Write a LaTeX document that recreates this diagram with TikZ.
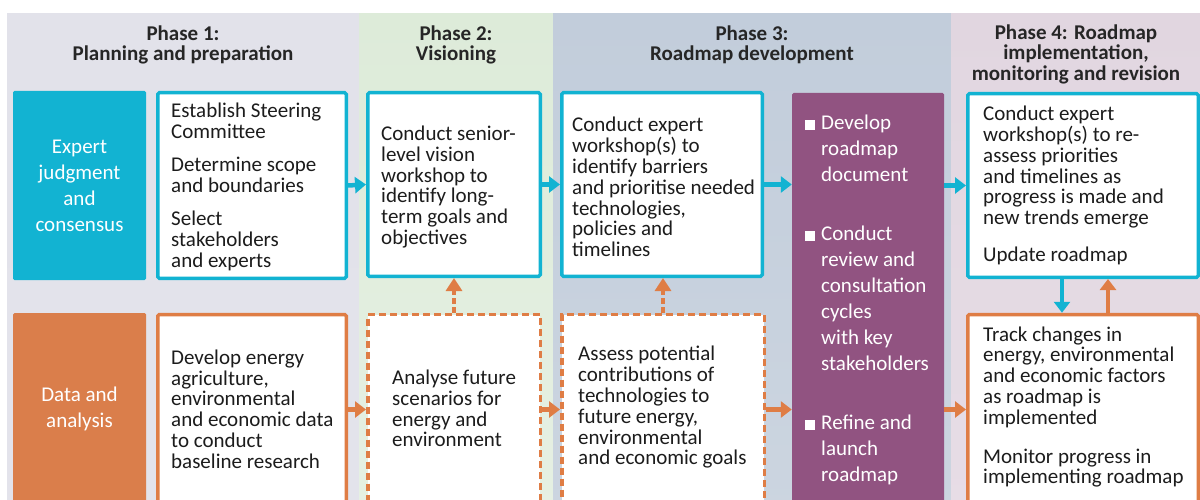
\documentclass[tikz,border=0pt]{standalone}
\usepackage{fontspec}
\setmainfont{Carlito}
\usetikzlibrary{arrows.meta}
\definecolor{cy}{HTML}{12B3D2}
\definecolor{org}{HTML}{DF7D45}
\definecolor{orgfill}{HTML}{DA7E4B}
\definecolor{pur}{HTML}{915381}
\definecolor{txt}{HTML}{1C1C1C}
\definecolor{hd}{HTML}{262626}
\definecolor{aT}{HTML}{E2E2EA}\definecolor{aM}{HTML}{F7F7F9}\definecolor{aB}{HTML}{E3E3EB}
\definecolor{bT}{HTML}{DDEBD9}\definecolor{bM}{HTML}{F3F8F1}\definecolor{bB}{HTML}{E6F0E3}
\definecolor{cT}{HTML}{C2CDDB}\definecolor{cM}{HTML}{E8ECF1}\definecolor{cB}{HTML}{CCD5E0}
\definecolor{dT}{HTML}{E1D6E0}\definecolor{dM}{HTML}{F6F1F5}\definecolor{dB}{HTML}{E7DDE6}
\begin{document}
\begin{tikzpicture}[x=1pt,y=-1pt,
  hdr/.style={inner sep=0pt, anchor=north, align=center, text=hd, font=\fontsize{21}{20.5}\selectfont\bfseries},
  body/.style={inner sep=0pt, anchor=west, align=left, text=txt, font=\fontsize{21}{20.8}\selectfont},
  wtxt/.style={inner sep=0pt, align=center, text=white, font=\fontsize{21}{26}\selectfont},
  ptxt/.style={inner sep=0pt, anchor=west, align=left, text=white, font=\fontsize{21}{26}\selectfont},
  boxbase/.style={line width=3.5pt, fill=white, rounded corners=1.5pt, inner sep=0pt},
  cbox/.style={boxbase, draw=cy},
  obox/.style={boxbase, draw=org},
  dbox/.style={boxbase, draw=org, dash pattern=on 7pt off 4pt, rounded corners=0pt},
  lab/.style={fill=#1, rounded corners=1.5pt, inner sep=0pt},
  carr/.style={draw=cy, line width=4.5pt, -{Triangle[length=11pt,width=16pt]}},
  oarr/.style={draw=org, line width=4.5pt, -{Triangle[length=11pt,width=16pt]}},
  darr/.style={draw=org, line width=4.5pt, dash pattern=on 6pt off 3pt, -{Triangle[length=13pt,width=16pt]}}
]
\useasboundingbox (0,0) rectangle (1200,500);
\clip (0,0) rectangle (1200,500);
% background bands
\shade[top color=aT, middle color=aM, bottom color=aB] (7,14) rectangle (359,520);
\shade[top color=bT, middle color=bM, bottom color=bB] (359,14) rectangle (553,520);
\shade[top color=cT, middle color=cM, bottom color=cB] (553,14) rectangle (951,520);
\shade[top color=dT, middle color=dM, bottom color=dB] (951,14) rectangle (1200,520);
% headers
\node[hdr] (h1) at (183,25.5) {Phase 1:\\Planning and preparation};
\node[hdr] (h2) at (456,25.5) {Phase 2:\\Visioning};
\node[hdr] (h3) at (752,25.5) {Phase 3:\\Roadmap development};
\node[hdr] (h4) at (1076,24.5) {Phase 4: Roadmap\\implementation,\\monitoring and revision};
% top row boxes
\node[lab=cy, minimum width=133pt, minimum height=189pt] (L1) at (79.5,185.5) {};
\node[cbox, minimum width=188.5pt, minimum height=185.5pt] (B1) at (252,185.5) {};
\node[cbox, minimum width=172.5pt, minimum height=183.5pt] (B2) at (454,184.5) {};
\node[cbox, minimum width=200.5pt, minimum height=183.5pt] (B3) at (662,184.5) {};
\node[lab=pur, minimum width=152pt, minimum height=410pt] (P) at (868,298) {};
\node[cbox, minimum width=230.5pt, minimum height=183.5pt] (B4) at (1083,185.5) {};
% bottom row boxes
\node[lab=orgfill, minimum width=133pt, minimum height=192pt] (L2) at (79.5,409) {};
\node[obox, minimum width=188.5pt, minimum height=190pt] (C1) at (252,409.5) {};
\node[dbox, minimum width=172.5pt, minimum height=190pt] (C2) at (454,409.5) {};
\node[dbox, minimum width=202.5pt, minimum height=190pt] (C3) at (663,409.5) {};
\node[obox, minimum width=230.5pt, minimum height=190pt] (C4) at (1083,409.5) {};
% texts
\node[wtxt] (tL1) at (79.5,186) {Expert\\judgment\\and\\consensus};
\node[body] (tB1) at (171,187) {Establish Steering\\Committee\\[12.5pt]Determine scope\\and boundaries\\[12.5pt]Select\\stakeholders\\and experts};
\node[body] (tB2) at (381,187) {Conduct senior-\\level vision\\workshop to\\identify long-\\term goals and\\objectives};
\node[body] (tB3) at (572,187) {Conduct expert\\workshop(s) to\\identify barriers\\and prioritise needed\\technologies,\\policies and\\timelines};
\node[ptxt] (tP) at (805,300) {\makebox[16pt][l]{\rule{10pt}{10pt}}Develop\\\hspace*{16pt}roadmap\\\hspace*{16pt}document\\[33pt]\makebox[16pt][l]{\rule{10pt}{10pt}}Conduct\\\hspace*{16pt}review and\\\hspace*{16pt}consultation\\\hspace*{16pt}cycles\\\hspace*{16pt}with key\\\hspace*{16pt}stakeholders\\[33pt]\makebox[16pt][l]{\rule{10pt}{10pt}}Refine and\\\hspace*{16pt}launch\\\hspace*{16pt}roadmap};
\node[body] (tB4) at (983,185.5) {Conduct expert\\workshop(s) to re-\\assess priorities\\and timelines as\\progress is made and\\new trends emerge\\[16pt]Update roadmap};
\node[wtxt] (tL2) at (79.5,408.5) {Data and\\analysis};
\node[body] (tC1) at (171,409) {Develop energy\\agriculture,\\environmental\\and economic data\\to conduct\\baseline research};
\node[body] (tC2) at (392,408.5) {Analyse future\\scenarios for\\energy and\\environment};
\node[body] (tC3) at (578,407.5) {Assess potential\\contributions of\\technologies to\\future energy,\\environmental\\and economic goals};
\node[body] (tC4) at (983,407) {Track changes in\\energy, environmental\\and economic factors\\as roadmap is\\implemented\\[18pt]Monitor progress in\\implementing roadmap};
% connectors top row
\draw[carr] (B1.east) -- (B2.west);
\draw[carr] (B2.east) -- (B3.west);
\draw[carr] (B3.east) -- (B3.east -| P.west);
\draw[carr] (B4.west -| P.east) -- (B4.west);
% connectors bottom row
\draw[oarr] (C1.east) -- (C2.west);
\draw[oarr] (C2.east) -- (C3.west);
\draw[oarr] (C3.east) -- (C3.east -| P.west);
\draw[oarr] (C4.west -| P.east) -- (C4.west);
% vertical connectors
\draw[darr] (C2.north) -- (C2.north |- B2.south);
\draw[darr] (C3.north) -- (C3.north |- B3.south);
\draw[carr] ([xshift=-21pt]B4.south) -- ([xshift=-21pt]C4.north);
\draw[oarr] ([xshift=25pt]C4.north) -- ([xshift=25pt]B4.south);
\end{tikzpicture}
\end{document}
